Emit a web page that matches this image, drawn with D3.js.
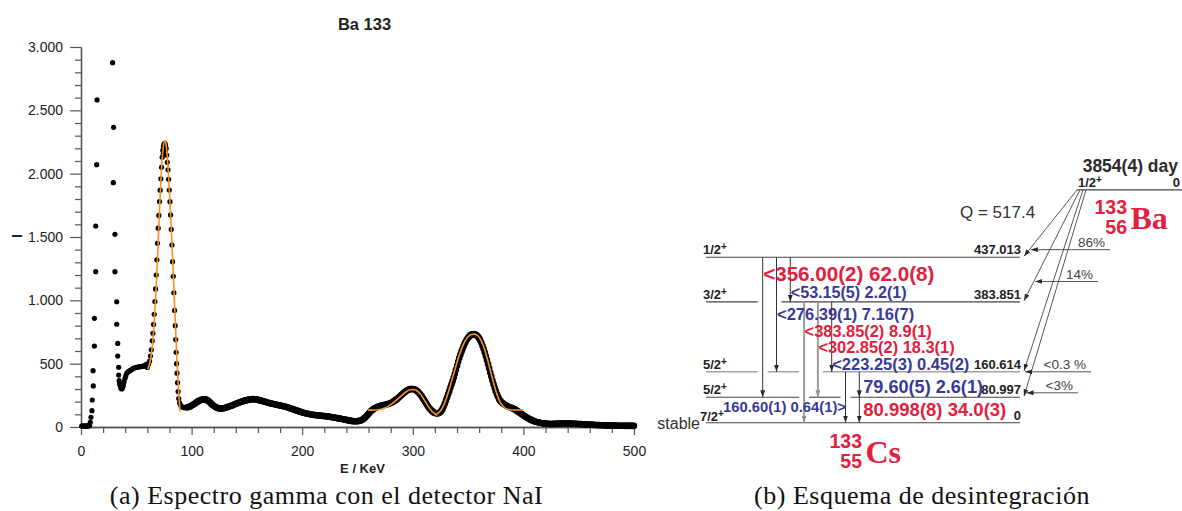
<!DOCTYPE html>
<html><head><meta charset="utf-8">
<script src="https://cdn.jsdelivr.net/npm/d3@7"></script>
<style>body{margin:0;background:#fff} svg{display:block;background:#fff}</style>
</head><body><svg id="c" width="1182" height="511"></svg>
<script>
// ---------------- (a) spectrum data: [E keV, counts] ----------------
const lowEnergyDots = [[0.6,8],[1.2,8],[1.8,8],[2.4,8],[3.0,8],[3.6,8],[4.2,8],[4.8,8],[5.4,8],[6.0,8],[6.6,8],[7.2,10],[7.8,16],[8.4,37],[9.0,76],[9.9,129],[10.2,213],[11.1,324],[10.9,445],[12.1,639],[12.1,858],[13.3,1226],[13.3,1587],[14.2,2071],[14.5,2582]];
const xRayDots = [[28.6,2876],[29.5,2366],[29.2,1929],[30.7,1521],[30.7,1226],[32.3,989],[32.3,811],[33.2,660],[33.2,560],[34.1,471],[34.1,410],[34.5,366],[35.0,340],[35.3,332],[35.8,318],[36.2,305],[36.8,300],[37.2,305],[37.8,315],[38.3,332],[39.0,358],[39.8,384],[40.5,405],[41.3,424],[42.5,435],[43.5,442],[44.3,445],[45.5,452],[46.5,458],[47.3,463],[48.5,466],[49.5,469],[50.3,471],[51.5,473],[52.5,475],[53.3,476],[54.5,477],[55.5,479],[56.3,480],[57.5,485],[58.5,490],[59.5,496]];
const peak81Dots = [[60.0,470],[61.0,495],[62.0,520],[62.8,560],[63.6,610],[64.4,680],[65.0,740],[65.6,810],[66.2,890],[66.8,990],[67.4,1090],[68.0,1200],[68.6,1320],[69.2,1450],[69.8,1570],[70.4,1670],[71.0,1780],[71.6,1870],[72.2,1960],[72.8,2050],[73.4,2130],[74.0,2185],[74.4,2160],[74.6,2215],[75.0,2200],[75.2,2235],[75.8,2240],[76.4,2225],[76.5,2187],[77.0,2200],[77.5,2147],[78.0,2090],[78.6,2030],[79.2,1955],[79.8,1871],[80.4,1779],[81.0,1674],[81.6,1560],[82.2,1437],[82.8,1305],[83.4,1190],[84.0,1060],[84.6,920],[85.2,800],[85.6,690],[86.0,590],[86.4,500],[86.8,425],[87.3,350],[87.8,280],[88.4,225],[89.2,190],[90.2,170],[91.2,160],[92.2,155],[93.2,152],[94.2,152],[95.2,153]];
const continuumDots = [[96,155],[97,157],[98,160],[99,164],[100,170],[101,175],[102,180],[103,186],[104,192],[105,198],[106,203],[107,208],[108,212],[109,215],[110,217],[111,218],[112,218],[113,216],[114,212],[115,206],[116,199],[117,191],[118,182],[119,174],[120,167],[121,161],[122,156],[123,152],[124,149],[125,147],[126,146],[127,146],[128,147],[129,148],[130,150],[131,153],[132,156],[133,159],[134,162],[135,165],[136,168],[137,172],[138,175],[139,179],[140,183],[141,186],[142,190],[143,193],[144,196],[145,199],[146,202],[147,205],[148,208],[149,210],[150,212],[151,214],[152,216],[153,218],[154,219],[155,220],[156,220],[157,219],[158,218],[159,216],[160,214],[161,212],[162,210],[163,207],[164,205],[165,202],[166,200],[167,197],[168,195],[169,192],[170,190],[171,188],[172,186],[173,184],[174,182],[175,180],[176,178],[177,176],[178,174],[179,172],[180,170],[181,168],[182,166],[183,164],[184,162],[185,160],[186,157],[187,154],[188,151],[189,148],[190,145],[191,142],[192,139],[193,136],[194,133],[195,130],[196,127],[197,124],[198,121],[199,118],[200,115],[201,113],[202,111],[203,109],[204,107],[205,105],[206,103],[207,101],[208,99],[209,97],[210,96],[211,95],[212,94],[213,93],[214,92],[215,91],[216,90],[217,89],[218,88],[219,87],[220,86],[221,85],[222,84],[223,83],[224,82],[225,80],[226,79],[227,77],[228,76],[229,74],[230,73],[231,71],[232,70],[233,68],[234,66],[235,65],[236,63],[237,61],[238,59],[239,57],[240,56],[241,54],[242,52],[243,50],[244,48],[245,47],[246,46],[247,45],[248,45],[249,45],[250,46],[251,47],[252,49],[253,52],[254,56],[255,61],[256,68],[257,76],[258,85],[259,95],[260,105],[261,115],[262,124],[263,132],[264,139],[265,145],[266,150],[267,154],[268,158],[269,161],[270,164],[271,167],[272,170],[273,172],[274,174],[275,176],[276,178],[277,180],[278,183],[279,186],[280,190],[281,194],[282,199],[283,204],[284,210],[285,216],[286,223],[287,230],[288,238],[289,246],[290,254],[291,262],[292,270],[293,277],[294,284],[295,290],[296,294],[297,297],[298,299],[299,300],[300,300],[301,298],[302,295],[303,290],[304,283],[305,275],[306,265],[307,254],[308,242],[309,229],[310,215],[311,201],[312,187],[313,173],[314,160],[315,148],[316,138],[317,129],[318,121],[319,115],[320,111],[321,108],[322,107],[323,108],[324,112],[325,119],[326,130],[327,145],[328,163],[329,185],[330,210],[331,235],[332,260],[333,285],[334,312],[335,338],[336,362],[337,390],[338,420],[339,452],[340,484],[341,515],[342,545],[343,570],[344,595],[345,618],[346,640],[347,660],[348,677],[349,692],[350,705],[351,715],[352,723],[353,729],[354,732],[355,733],[356,731],[357,727],[358,721],[359,712],[360,700],[361,685],[362,665],[363,642],[364,617],[365,590],[366,560],[367,528],[368,496],[369,463],[370,430],[371,398],[372,367],[373,337],[374,309],[375,283],[376,260],[377,240],[378,222],[379,208],[380,197],[381,190],[382,184],[383,178],[384,172],[385,167],[386,162],[387,158],[388,155],[389,152],[390,148],[391,145],[392,140],[393,135],[394,129],[395,123],[396,117],[397,111],[398,104],[399,98],[400,92],[401,86],[402,80],[403,75],[404,70],[405,65],[406,60],[407,56],[408,52],[409,48],[410,45],[411,42],[412,39],[413,37],[414,35],[415,33],[416,31],[417,30],[418,29],[419,28],[420,27],[421,26],[422,25],[423,25],[424,24],[425,24],[426,24],[427,25],[428,25],[429,26],[430,26],[431,27],[432,27],[433,28],[434,28],[435,28],[436,28],[437,28],[438,28],[439,28],[440,28],[441,27],[442,27],[443,27],[444,26],[445,26],[446,26],[447,25],[448,25],[449,24],[450,24],[451,23],[452,23],[453,22],[454,22],[455,21],[456,21],[457,20],[458,20],[459,19],[460,19],[461,18],[462,18],[463,17],[464,17],[465,16],[466,16],[467,15],[468,15],[469,15],[470,14],[471,14],[472,14],[473,13],[474,13],[475,13],[476,12],[477,12],[478,12],[479,12],[480,11],[481,11],[482,11],[483,11],[484,11],[485,10],[486,10],[487,10],[488,10],[489,10],[490,10],[491,10],[492,9],[493,9],[494,9],[495,9],[496,9],[497,9],[498,9],[499,9],[500,9]];
// fitted curves (orange)
const fit81 = [[60.5,455],[62,500],[63.5,570],[65,690],[66.5,870],[68,1110],[69.5,1400],[71,1710],[72.5,1990],[74,2180],[75,2245],[75.9,2262],[76.8,2240],[78,2130],[79.5,1930],[81,1680],[82.5,1390],[84,1090],[85.5,780],[87,480],[88.5,250],[89.5,121]];
const fit303 = [[259.5,133],[263,133],[266,134],[270,138],[274,148],[278,165],[282,188],[286,218],[290,250],[294,278],[297,292],[300,296],[303,290],[306,268],[309,233],[312,190],[315,150],[318,118],[320.5,100],[322,92]];
const fit356 = [[320,98],[323,110],[326,140],[329,195],[332,270],[335,360],[338,450],[341,540],[344,615],[347,675],[350,712],[353,730],[355.5,733],[358,725],[361,695],[364,635],[367,550],[370,450],[373,350],[376,260],[379,195],[382,160],[385,142],[388,136],[392,134],[396,134],[400,134]];
const xMajorTicks = [0,100,200,300,400,500];
const yMajorTicks = [0,500,1000,1500,2000,2500,3000];
const chartTitle = "Ba 133", xLabel = "E / KeV", yLabel = "I";

// ---------------- (b) decay scheme data ----------------
const parentHalfLife = "3854(4) day", parentSpin = "1/2", parentEnergy = "0", qValue = "Q = 517.4";
const parentA = "133", parentZ = "56", parentSym = "Ba";
const daughterA = "133", daughterZ = "55", daughterSym = "Cs", daughterNote = "stable";
const levelLabels = ["437.013","383.851","160.614","80.997","0"];
const levelSpins = ["1/2","3/2","5/2","5/2","7/2"];
const betaBranches = ["86%","14%","<0.3 %","<3%"];
const gammaEnergies = ["356.00(2)","276.39(1)","53.15(5)","383.85(2)","302.85(2)","223.25(3)","160.60(1)","79.60(5)","80.998(8)"];
const gammaIntensities = ["62.0(8)","7.16(7)","2.2(1)","8.9(1)","18.3(1)","0.45(2)","0.64(1)","2.6(1)","34.0(3)"];
// indices into the level arrays (0 = 437.013 ... 4 = ground state)
const gammaFrom = [0,0,0,1,1,1,2,2,3];
const gammaTo   = [3,2,1,4,3,2,4,3,4];
const gammaMark = ["<","<","<","<","<","<",">","",""];
const captions = ["(a) Espectro gamma con el detector NaI","(b) Esquema de desintegración"];

// ---------------- layout ----------------
const levelRow = [0,3.5,9,11,13];
const parentRow = -5.3;
const gammaCol = [0,1,2,3,4,5,6,7,7];
const gammaLabelRow = [1.9,4.9,3.2,6.25,7.5,8.85,12.15,10.65,12.5];
const gammaColor = ["red","blue","blue","red","red","blue","blue","blue","red"];
const gammaFont = [20.6,16.5,16.1,16.4,16.4,16.5,14.8,18.1,18.5];
const gammaGray = [false,false,false,true,true,false,false,false,false];
const betaStartX = [1077,1080,1083,1086];
const branchRow = [-0.6,1.9,9.0,10.65];
const branchEndX = [1110,1098,1091,1078];

const RED = "#e3203d", BLUE = "#383a97", DARK = "#222", SANS = "'Liberation Sans', Arial, Helvetica, sans-serif", SERIF = "'Liberation Serif', 'Times New Roman', serif";
const svg = d3.select("#c");

// ================= (a) =================
const x = d3.scaleLinear().domain([0,500]).range([81,634]);
const y = d3.scaleLinear().domain([0,3000]).range([427,47]);
const fmt = d3.formatLocale({decimal:",",thousands:".",grouping:[3],currency:["",""]}).format(",d");
const gA = svg.append("g");

function styleAxis(g){
  g.selectAll("path.domain").attr("stroke","#555").attr("stroke-width",1.3);
  g.selectAll(".tick line").attr("stroke","#555").attr("stroke-width",1.2);
  g.selectAll(".tick text").attr("font-family",SANS).attr("font-size",14).attr("fill",DARK);
}
const xMinor = d3.range(0,501,20).filter(v=>!xMajorTicks.includes(v));
const yMinor = d3.range(0,3001,100).filter(v=>!yMajorTicks.includes(v));
gA.append("g").attr("transform","translate(0,427)")
  .call(d3.axisBottom(x).tickValues(xMinor).tickSize(6).tickSizeOuter(0).tickFormat(""))
  .call(styleAxis);
gA.append("g").attr("transform","translate(0,427)")
  .call(d3.axisBottom(x).tickValues(xMajorTicks).tickSize(8).tickPadding(11).tickSizeOuter(0).tickFormat(d3.format("d")))
  .call(styleAxis);
gA.append("g").attr("transform","translate(81,0)")
  .call(d3.axisLeft(y).tickValues(yMinor).tickSize(6).tickSizeOuter(0).tickFormat(""))
  .call(styleAxis);
gA.append("g").attr("transform","translate(81,0)")
  .call(d3.axisLeft(y).tickValues(yMajorTicks).tickSize(11).tickPadding(7).tickSizeOuter(0).tickFormat(fmt))
  .call(styleAxis);

const sparseDots = [].concat(lowEnergyDots, xRayDots, peak81Dots);
gA.append("g").selectAll("circle").data(sparseDots).join("circle")
  .attr("cx",d=>x(d[0])).attr("cy",d=>y(d[1])).attr("r",2.6).attr("fill","#000");
gA.append("g").selectAll("circle").data(continuumDots).join("circle")
  .attr("cx",d=>x(d[0])).attr("cy",d=>y(d[1])).attr("r",3.3).attr("fill","#000");

const line = d3.line().x(d=>x(d[0])).y(d=>y(d[1])).curve(d3.curveMonotoneX);
[fit81, fit303, fit356].forEach(f=>{
  gA.append("path").attr("d",line(f)).attr("fill","none").attr("stroke","#f7901e").attr("stroke-width",1.6);
});

gA.append("text").attr("x",364.5).attr("y",30).attr("text-anchor","middle")
  .attr("font-family",SANS).attr("font-weight","bold").attr("font-size",16.5).attr("fill",DARK).text(chartTitle);
gA.append("text").attr("x",362.5).attr("y",473).attr("text-anchor","middle")
  .attr("font-family",SANS).attr("font-weight","bold").attr("font-size",13).attr("fill",DARK).text(xLabel);
gA.append("text").attr("transform","translate(22,236) rotate(-90)").attr("text-anchor","middle")
  .attr("font-family",SANS).attr("font-weight","bold").attr("font-size",14).attr("fill",DARK).text(yLabel);

// ================= (b) =================
const gB = svg.append("g");
const ySch = d3.scaleLinear().domain([0,13]).range([257.3,422.7]);
const xCol = d3.scaleLinear().domain([0,7]).range([762.7,859.3]);
const levelX = [706,1020];

const defs = svg.append("defs");
function marker(id,color){
  defs.append("marker").attr("id",id).attr("viewBox","0 0 10 7").attr("refX",10).attr("refY",3.5)
    .attr("markerWidth",7).attr("markerHeight",5).attr("markerUnits","userSpaceOnUse").attr("orient","auto")
    .append("path").attr("d","M0,0L10,3.5L0,7z").attr("fill",color);
}
marker("ahDark","#2a2a2a"); marker("ahGray","#8f8f8f");

// levels with gaps where gamma lines cross
levelRow.forEach((r,i)=>{
  const crosses = gammaCol.map((c,k)=>({c,k}))
    .filter(o=>levelRow[gammaFrom[o.k]]<r && levelRow[gammaTo[o.k]]>r)
    .map(o=>[xCol(o.c)-5,xCol(o.c)+5]).sort((a,b)=>a[0]-b[0]);
  const merged=[];
  crosses.forEach(g=>{ if(merged.length && g[0]-merged[merged.length-1][1]<6) merged[merged.length-1][1]=g[1]; else merged.push(g.slice()); });
  let segs=[], start=levelX[0];
  merged.forEach(g=>{segs.push([start,g[0]]); start=g[1];});
  segs.push([start,levelX[1]]);
  const gray = i===2;
  segs.forEach(s=>gB.append("line").attr("x1",s[0]).attr("x2",s[1]).attr("y1",ySch(r)).attr("y2",ySch(r))
    .attr("stroke",gray?"#a3a3a3":"#444").attr("stroke-width",gray?1.6:1.1));
  gB.append("text").attr("x",1021).attr("y",ySch(r)-3).attr("text-anchor","end")
    .attr("font-family",SANS).attr("font-weight","bold").attr("font-size",13).attr("fill",DARK).text(levelLabels[i]);
  const st = gB.append("text").attr("x", i===4?700:703).attr("y",ySch(r)-(i===4?1.5:3))
    .attr("font-family",SANS).attr("font-weight","bold").attr("font-size",13).attr("fill",DARK);
  st.append("tspan").text(levelSpins[i]);
  st.append("tspan").attr("font-size",10).attr("dy",-4).text("+");
});
gB.append("text").attr("x",700).attr("y",429).attr("text-anchor","end")
  .attr("font-family",SANS).attr("font-size",16).attr("fill","#333").text(daughterNote);

// gamma transitions
gammaCol.forEach((c,k)=>{
  const xx = xCol(c);
  gB.append("line").attr("x1",xx).attr("x2",xx)
    .attr("y1",ySch(levelRow[gammaFrom[k]])).attr("y2",ySch(levelRow[gammaTo[k]]))
    .attr("stroke",gammaGray[k]?"#9c9c9c":"#333").attr("stroke-width",gammaGray[k]?2:1)
    .attr("marker-end",gammaGray[k]?"url(#ahGray)":"url(#ahDark)");
});
gammaCol.forEach((c,k)=>{
  const m = gammaMark[k];
  let txt, xx, anchor;
  if(m==="<"){ txt="<"+gammaEnergies[k]+" "+gammaIntensities[k]; xx=xCol(c)+0.5; anchor="start"; }
  else if(m===">"){ txt=gammaEnergies[k]+" "+gammaIntensities[k]+">"; xx=xCol(c)+0.5; anchor="end"; }
  else { txt=gammaEnergies[k]+" "+gammaIntensities[k]; xx=xCol(c)+4; anchor="start"; }
  gB.append("text").attr("x",xx).attr("y",ySch(gammaLabelRow[k])).attr("text-anchor",anchor)
    .attr("font-family",SANS).attr("font-weight","bold").attr("font-size",gammaFont[k])
    .attr("fill",gammaColor[k]==="red"?RED:BLUE).text(txt);
});

// parent level
const py = ySch(parentRow);
gB.append("line").attr("x1",1077).attr("x2",1182).attr("y1",py).attr("y2",py).attr("stroke","#444").attr("stroke-width",1.1);
const ps = gB.append("text").attr("x",1078).attr("y",py-2.5).attr("font-family",SANS).attr("font-weight","bold").attr("font-size",13).attr("fill",DARK);
ps.append("tspan").text(parentSpin); ps.append("tspan").attr("font-size",10).attr("dy",-4).text("+");
gB.append("text").attr("x",1180).attr("y",py-3).attr("text-anchor","end").attr("font-family",SANS).attr("font-weight","bold").attr("font-size",13).attr("fill",DARK).text(parentEnergy);
gB.append("text").attr("x",1178).attr("y",172).attr("text-anchor","end").attr("font-family",SANS).attr("font-weight","bold").attr("font-size",17.5).attr("fill","#2b2b2b").text(parentHalfLife);
gB.append("text").attr("x",960).attr("y",218).attr("font-family",SANS).attr("font-size",17).attr("fill","#333").text(qValue);

// beta branches
const betaEnd = [];
betaBranches.forEach((b,i)=>{
  const ex = 1024, ey = ySch(levelRow[i]) - 1;
  betaEnd.push([ex,ey]);
  gB.append("line").attr("x1",betaStartX[i]).attr("y1",py).attr("x2",ex).attr("y2",ey)
    .attr("stroke","#444").attr("stroke-width",0.9).attr("marker-end","url(#ahDark)");
});
betaBranches.forEach((b,i)=>{
  const yy = ySch(branchRow[i]);
  const t = (yy-py)/(betaEnd[i][1]-py);
  const bx = betaStartX[i] + t*(betaEnd[i][0]-betaStartX[i]);
  gB.append("line").attr("x1",branchEndX[i]).attr("x2",bx+1.5).attr("y1",yy).attr("y2",yy)
    .attr("stroke","#555").attr("stroke-width",1).attr("marker-end","url(#ahDark)");
  gB.append("text").attr("x",branchEndX[i]-5).attr("y",yy-2.5).attr("text-anchor","end")
    .attr("font-family",SANS).attr("font-size",13.5).attr("fill","#444").text(b);
});

// nuclide labels
function nuclide(xr, yA, yZ, A, Z, sym){
  gB.append("text").attr("x",xr).attr("y",yA).attr("text-anchor","end").attr("font-family",SANS).attr("font-weight","bold").attr("font-size",19.5).attr("fill",RED).text(A);
  gB.append("text").attr("x",xr).attr("y",yZ).attr("text-anchor","end").attr("font-family",SANS).attr("font-weight","bold").attr("font-size",19.5).attr("fill",RED).text(Z);
  gB.append("text").attr("x",xr+3.5).attr("y",yZ-5).attr("font-family",SERIF).attr("font-weight","bold").attr("font-size",32).attr("fill",RED).text(sym);
}
nuclide(1127,214,234,parentA,parentZ,parentSym);
nuclide(862,448,468,daughterA,daughterZ,daughterSym);

// captions
[[326.5,captions[0]],[922,captions[1]]].forEach(([cx,t])=>{
  svg.append("text").attr("x",cx).attr("y",504).attr("text-anchor","middle")
    .attr("font-family",SERIF).attr("font-size",26).attr("letter-spacing",0.5).attr("fill","#111").text(t);
});
</script></body></html>
